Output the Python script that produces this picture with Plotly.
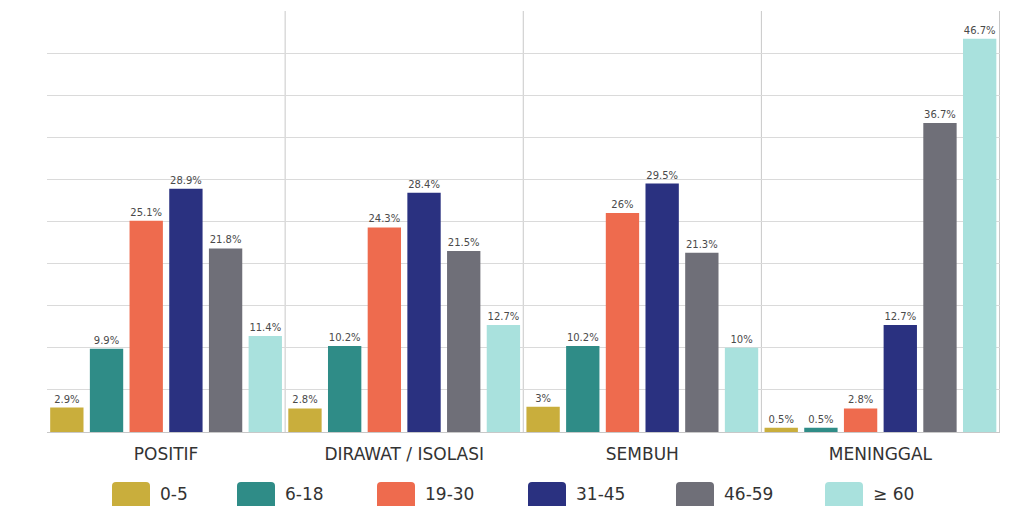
import plotly.graph_objects as go

categories = ["POSITIF", "DIRAWAT / ISOLASI", "SEMBUH", "MENINGGAL"]
series_names = ["0-5", "6-18", "19-30", "31-45", "46-59", "≥ 60"]
v_0_5 = [2.9, 2.8, 3, 0.5]
v_6_18 = [9.9, 10.2, 10.2, 0.5]
v_19_30 = [25.1, 24.3, 26, 2.8]
v_31_45 = [28.9, 28.4, 29.5, 12.7]
v_46_59 = [21.8, 21.5, 21.3, 36.7]
v_60 = [11.4, 12.7, 10, 46.7]
series_values = [v_0_5, v_6_18, v_19_30, v_31_45, v_46_59, v_60]
colors = ["#C9AE3C", "#2F8C87", "#EE6B4E", "#2A3180", "#6F6F78", "#A9E1DD"]

# page is offset by the 8px body margin of the html page
OFF = 8
W, H = 1036 - OFF, 506 - OFF
ML, MR, MT, MB = 47 - OFF, 36, 11 - OFF, 74
PW, PH = W - ML - MR, H - MT - MB

def fmt(v):
    return f"{v:g}%"

fig = go.Figure()
for name, vals, col in zip(series_names, series_values, colors):
    fig.add_trace(go.Bar(
        x=categories, y=vals, name=name,
        marker=dict(color=col, line=dict(width=0)),
        text=[fmt(v) for v in vals], textposition="outside",
        textfont=dict(size=10, color="#4A4A4A", family="DejaVu Sans"),
        cliponaxis=False, showlegend=False,
    ))

# category divider lines
for i in range(len(categories)):
    fig.add_shape(type="line", xref="x", yref="y", x0=i + 0.5, x1=i + 0.5, y0=0, y1=50,
                  line=dict(color="#C8C8C8", width=1), layer="below")

# custom legend with large rounded swatches (page pixel layout -> paper coords)
def px_x(px):
    return (px - OFF - ML) / PW

def px_y(py):
    return (H - MB - (py - OFF)) / PH

swatch_left = [112, 237, 377, 528, 676, 825]
sw_w, sw_top, sw_bot, r = 38, 482, 510, 4
for name, col, left in zip(series_names, colors, swatch_left):
    x0, x1 = px_x(left), px_x(left + sw_w)
    y0, y1 = px_y(sw_bot), px_y(sw_top)
    rx, ry = r / PW, r / PH
    path = (f"M {x0+rx},{y1} L {x1-rx},{y1} Q {x1},{y1} {x1},{y1-ry} "
            f"L {x1},{y0+ry} Q {x1},{y0} {x1-rx},{y0} L {x0+rx},{y0} "
            f"Q {x0},{y0} {x0},{y0+ry} L {x0},{y1-ry} Q {x0},{y1} {x0+rx},{y1} Z")
    fig.add_shape(type="path", xref="paper", yref="paper", path=path,
                  fillcolor=col, line=dict(width=0))
    fig.add_annotation(x=px_x(left + sw_w + 8), y=px_y(494), xref="paper", yref="paper",
                       text=name, showarrow=False, xanchor="left", yanchor="middle",
                       font=dict(size=17, color="#333333", family="DejaVu Sans"))

fig.update_layout(
    width=W, height=H,
    margin=dict(l=ML, r=MR, t=MT, b=MB, autoexpand=False),
    paper_bgcolor="white", plot_bgcolor="white",
    barmode="group", bargap=0.0, bargroupgap=0.16,
    font=dict(family="DejaVu Sans", color="#333333"),
    showlegend=False,
    uniformtext=dict(minsize=8, mode="show"),
)
fig.update_xaxes(showgrid=False, showline=False, ticks="outside", ticklen=7,
                 tickcolor="rgba(0,0,0,0)", tickfont=dict(size=17, color="#333333", family="DejaVu Sans"))
fig.update_yaxes(range=[0, 50], dtick=5, showgrid=True, gridcolor="#DADADA", gridwidth=1,
                 showticklabels=False, zeroline=True, zerolinecolor="#C8C8C8", zerolinewidth=1)

fig.write_html("out.html")
